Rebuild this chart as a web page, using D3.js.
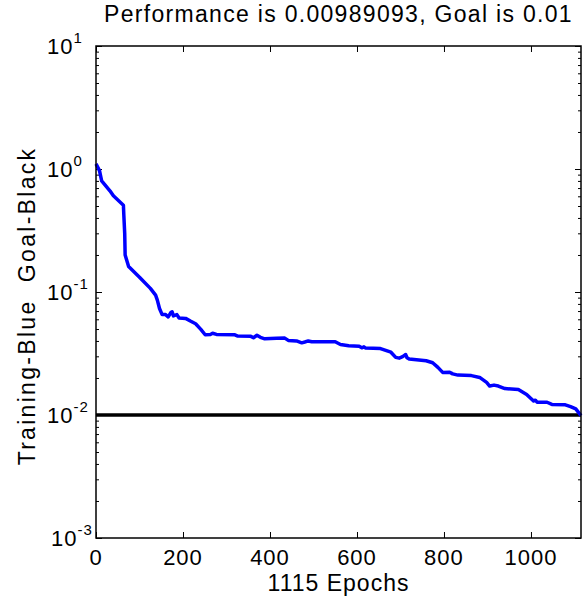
<!DOCTYPE html>
<html>
<head>
<meta charset="utf-8">
<script src="https://cdn.jsdelivr.net/npm/d3@7"></script>
<style>
  body { margin: 0; background: #fff; }
  text { font-family: Arial, "Liberation Sans", sans-serif; fill: #000; }
  .axis path, .axis line { stroke: #000; }
</style>
</head>
<body>
<svg id="chart"></svg>
<script>
// Training record
const epochs = [0, 8, 13, 32, 40, 63, 64, 66, 67, 75, 100, 125, 137, 141, 146, 152, 160, 166, 172, 175, 178, 186, 191, 206, 218, 229, 241, 251, 263, 268, 277, 318, 326, 356, 362, 370, 378, 388, 415, 434, 442, 461, 473, 480, 488, 496, 550, 562, 581, 605, 611, 616, 620, 654, 678, 689, 697, 705, 712, 715, 720, 759, 774, 786, 797, 813, 820, 832, 863, 882, 898, 905, 915, 925, 940, 971, 990, 1006, 1010, 1014, 1037, 1048, 1079, 1091, 1103, 1115];
const performance = [1.10, 0.97, 0.80, 0.665, 0.605, 0.508, 0.42, 0.30, 0.20, 0.161, 0.132, 0.107, 0.0944, 0.0859, 0.0734, 0.0655, 0.0655, 0.0627, 0.068, 0.0689, 0.064, 0.0655, 0.0615, 0.061, 0.0578, 0.0552, 0.0497, 0.0449, 0.0452, 0.0462, 0.0452, 0.045, 0.0438, 0.0436, 0.0425, 0.0445, 0.0428, 0.0416, 0.042, 0.0422, 0.0404, 0.040, 0.0386, 0.0392, 0.040, 0.0394, 0.0394, 0.0374, 0.0366, 0.0362, 0.0352, 0.0358, 0.0350, 0.0347, 0.0324, 0.0294, 0.029, 0.0298, 0.031, 0.0292, 0.0285, 0.0276, 0.0266, 0.0244, 0.0222, 0.0223, 0.0216, 0.0211, 0.0209, 0.0202, 0.0184, 0.0172, 0.0175, 0.0172, 0.0164, 0.0161, 0.0147, 0.0130, 0.0132, 0.0127, 0.0127, 0.0122, 0.0121, 0.0117, 0.0112, 0.00989];
const goal = 0.01;
const epochCount = 1115;
const xTicks = [0, 200, 400, 600, 800, 1000];
const yDecades = [1e-3, 1e-2, 1e-1, 1, 10];
const yExponents = ['-3', '-2', '-1', '0', '1'];
const titleText = 'Performance is 0.00989093, Goal is 0.01';
const xLabel = '1115 Epochs';
const yLabel = 'Training-Blue  Goal-Black';

const width = 585, height = 603;
const margin = {top: 46, right: 4, bottom: 65, left: 96};
const innerW = width - margin.left - margin.right;
const innerH = height - margin.top - margin.bottom;

const svg = d3.select('#chart')
  .attr('width', width)
  .attr('height', height);

const chart = svg.append('g')
  .attr('transform', `translate(${margin.left},${margin.top})`);

const xScale = d3.scaleLinear().domain([0, epochCount]).range([0, innerW]);
const yScale = d3.scaleLog().domain([1e-3, 10]).range([innerH, 0]);

// minor log ticks 2..9 in every decade
const minorTicks = [];
yDecades.slice(0, -1).forEach(d => {
  for (let k = 2; k <= 9; k++) minorTicks.push(d * k);
});

// ticks point inward on all four sides
const yMajor = (g, side) => g.call(side(yScale).tickValues(yDecades).tickSize(-6).tickFormat(''));
const yMinor = (g, side) => g.call(side(yScale).tickValues(minorTicks).tickSize(-3).tickFormat(''));

chart.append('g').attr('class', 'axis').call(g => yMajor(g, d3.axisLeft));
chart.append('g').attr('class', 'axis').call(g => yMinor(g, d3.axisLeft));
chart.append('g').attr('class', 'axis').attr('transform', `translate(${innerW},0)`).call(g => yMajor(g, d3.axisRight));
chart.append('g').attr('class', 'axis').attr('transform', `translate(${innerW},0)`).call(g => yMinor(g, d3.axisRight));

chart.append('g').attr('class', 'axis')
  .attr('transform', `translate(0,${innerH})`)
  .call(d3.axisBottom(xScale).tickValues(xTicks).tickSize(-6).tickFormat(''));
chart.append('g').attr('class', 'axis')
  .call(d3.axisTop(xScale).tickValues(xTicks).tickSize(-6).tickFormat(''));

chart.selectAll('.axis path').remove();
chart.selectAll('.axis line').attr('stroke-width', 1);

// x tick labels
chart.selectAll('.x-label')
  .data(xTicks)
  .join('text')
  .attr('class', 'x-label')
  .attr('x', d => xScale(d))
  .attr('y', innerH + 27)
  .attr('text-anchor', 'middle')
  .style('font-size', '22px')
  .style('letter-spacing', '1px')
  .text(d => d);

// y tick labels as 10 with superscript exponent
const yLabels = chart.selectAll('.y-label')
  .data(yDecades)
  .join('text')
  .attr('class', 'y-label')
  .attr('x', d => d === 1e-3 ? -45 : -49)
  .attr('y', d => yScale(d) + 8)
  .style('font-size', '22px')
  .style('letter-spacing', '1px');
yLabels.append('tspan').text('10');
yLabels.append('tspan')
  .attr('dy', -11)
  .style('font-size', '15px')
  .text((d, i) => yExponents[i]);

// goal line
chart.append('line')
  .attr('x1', xScale(0))
  .attr('x2', xScale(epochCount))
  .attr('y1', yScale(goal))
  .attr('y2', yScale(goal))
  .attr('stroke', '#000')
  .attr('stroke-width', 3.5);

// training curve
const line = d3.line()
  .x((d, i) => xScale(epochs[i]))
  .y(d => yScale(d));

chart.append('path')
  .datum(performance)
  .attr('d', line)
  .attr('fill', 'none')
  .attr('stroke', '#0000ff')
  .attr('stroke-width', 3.5)
  .attr('stroke-linejoin', 'round');

// frame
chart.append('rect')
  .attr('width', innerW)
  .attr('height', innerH)
  .attr('fill', 'none')
  .attr('stroke', '#000')
  .attr('stroke-width', 1.5);

// titles
svg.append('text')
  .attr('x', margin.left + innerW / 2)
  .attr('y', 22)
  .attr('text-anchor', 'middle')
  .style('font-size', '23px')
  .style('letter-spacing', '1.3px')
  .text(titleText);

svg.append('text')
  .attr('x', margin.left + innerW / 2)
  .attr('y', height - 12)
  .attr('text-anchor', 'middle')
  .style('font-size', '23px')
  .style('letter-spacing', '1px')
  .text(xLabel);

svg.append('text')
  .attr('transform', `translate(35,306) rotate(-90)`)
  .attr('text-anchor', 'middle')
  .style('font-size', '23px')
  .style('letter-spacing', '2.3px')
  .style('white-space', 'pre')
  .text(yLabel);
</script>
</body>
</html>
